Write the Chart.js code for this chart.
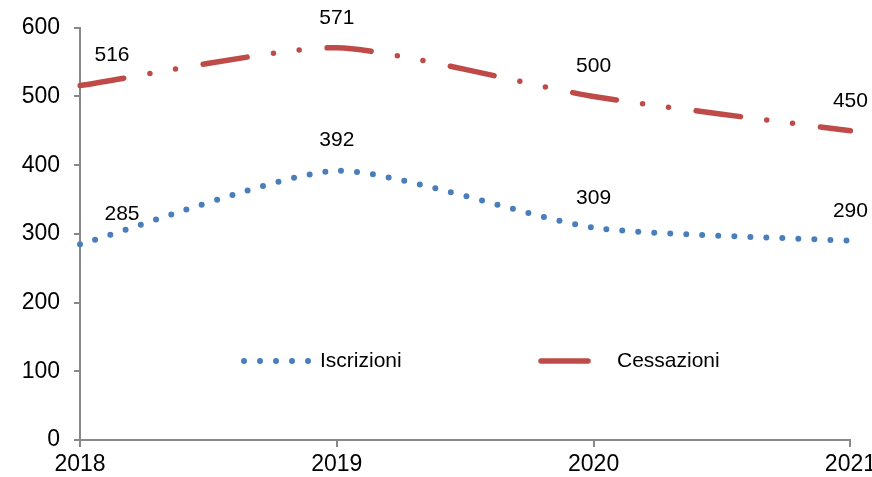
<!DOCTYPE html>
<html>
<head>
<meta charset="utf-8">
<script src="https://cdn.jsdelivr.net/npm/chart.js@4.4.0/dist/chart.umd.min.js"></script>
<style>
  html, body { margin: 0; padding: 0; overflow: hidden; background: #fff; }
  #wrap { width: 880px; height: 477px; }
</style>
</head>
<body>
<div id="wrap"><canvas id="chart"></canvas></div>
<script>
// dati
const years = ["2018", "2019", "2020", "2021"];
const iscrizioni = [285, 392, 309, 290];
const cessazioni = [516, 571, 500, 450];
const yTicks = [0, 100, 200, 300, 400, 500, 600];

const FONT = "'Liberation Sans', Arial, sans-serif";

// etichette sopra i punti
const pointLabels = {
  id: "pointLabels",
  afterDatasetsDraw(chart, args, opts) {
    const ctx = chart.ctx;
    ctx.save();
    ctx.font = "21px " + FONT;
    ctx.fillStyle = "#000";
    ctx.textAlign = "center";
    ctx.textBaseline = "middle";
    chart.data.datasets.forEach((ds, i) => {
      const meta = chart.getDatasetMeta(i);
      const shift = opts.shifts[i] || [];
      meta.data.forEach((pt, j) => {
        ctx.fillText(ds.data[j], pt.x + (shift[j] || 0), pt.y - 30);
      });
    });
    ctx.restore();
  },
};

// legenda dentro l'area del grafico
const innerLegend = {
  id: "innerLegend",
  afterDraw(chart, args, opts) {
    const ctx = chart.ctx;
    ctx.save();
    chart.data.datasets.forEach((ds, i) => {
      const it = opts.items[i];
      ctx.strokeStyle = ds.borderColor;
      ctx.lineWidth = ds.borderWidth;
      ctx.lineCap = "round";
      ctx.setLineDash(it.dash);
      ctx.beginPath();
      ctx.moveTo(it.x0, it.y);
      ctx.lineTo(it.x1, it.y);
      ctx.stroke();
      ctx.setLineDash([]);
      ctx.font = "21px " + FONT;
      ctx.fillStyle = "#000";
      ctx.textAlign = "left";
      ctx.textBaseline = "middle";
      ctx.fillText(ds.label, it.tx, it.y);
    });
    ctx.restore();
  },
};

new Chart(document.getElementById("chart"), {
  type: "line",
  data: {
    labels: years,
    datasets: [
      {
        label: "Iscrizioni",
        data: iscrizioni,
        borderColor: "#4a7ebb",
        borderWidth: 6,
        borderDash: [0, 16],
        borderCapStyle: "round",
        pointRadius: 0,
        tension: 0.2,
        fill: false,
      },
      {
        label: "Cessazioni",
        data: cessazioni,
        borderColor: "#be4b48",
        borderWidth: 5.5,
        borderDash: [44.5, 26.5, 0, 26, 0, 28],
        borderCapStyle: "round",
        pointRadius: 0,
        tension: 0.2,
        fill: false,
      },
    ],
  },
  options: {
    responsive: true,
    maintainAspectRatio: false,
    animation: false,
    layout: { padding: { top: 25, right: 0, left: 0, bottom: 0 } },
    plugins: {
      legend: { display: false },
      tooltip: { enabled: false },
      pointLabels: { shifts: [[42, 0, 0, 0], [32, 0, 0, 0]] },
      innerLegend: {
        items: [
          { x0: 244, x1: 309, y: 361, tx: 320, dash: [0, 16] },
          { x0: 541, x1: 588, y: 361, tx: 617, dash: [] },
        ],
      },
    },
    scales: {
      x: {
        offset: false,
        grid: {
          display: true,
          drawOnChartArea: false,
          color: "#888",
          lineWidth: 2,
          tickLength: 7,
        },
        border: { color: "#888", width: 2 },
        ticks: {
          color: "#000",
          font: { family: FONT, size: 23 },
          padding: 4,
          maxRotation: 0,
        },
        afterFit(scale) {
          scale.height = 37;
        },
      },
      y: {
        min: 0,
        max: 600,
        afterBuildTicks(scale) {
          scale.ticks = yTicks.map((v) => ({ value: v }));
        },
        grid: {
          display: true,
          drawOnChartArea: false,
          color: "#888",
          lineWidth: 2,
          tickLength: 6,
        },
        border: { color: "#888", width: 2 },
        ticks: {
          color: "#000",
          font: { family: FONT, size: 23 },
          padding: 14,
        },
        afterFit(scale) {
          scale.width = 80;
        },
      },
    },
  },
  plugins: [pointLabels, innerLegend],
});
</script>
</body>
</html>
